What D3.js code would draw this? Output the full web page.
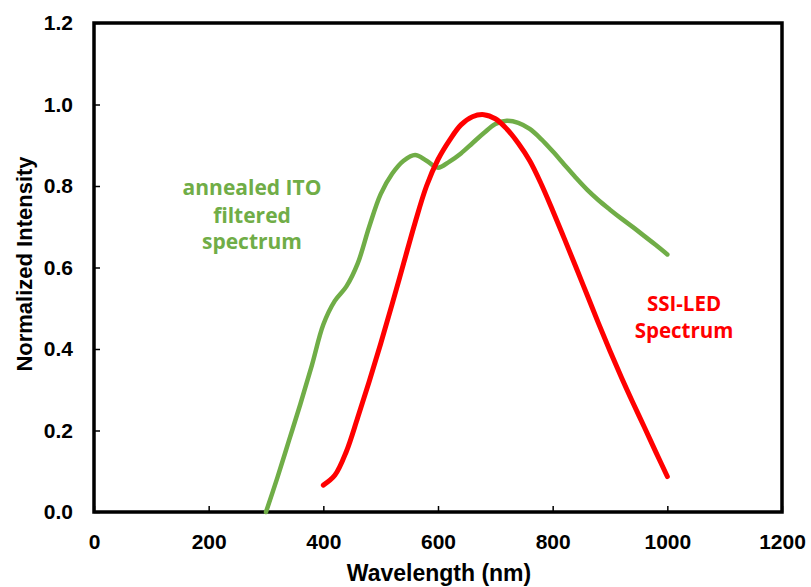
<!DOCTYPE html>
<html><head><meta charset="utf-8">
<script src="https://cdn.jsdelivr.net/npm/d3@7"></script>
<style>body{margin:0;background:#fff}svg{display:block}</style>
</head><body>
<svg id="c" width="811" height="587"></svg>
<script>
const xTicks = [0, 200, 400, 600, 800, 1000, 1200];
const yTicks = [0.0, 0.2, 0.4, 0.6, 0.8, 1.0, 1.2];

const itoWavelength = [300,320,340,360,380,400,420,440,460,480,500,520,540,560,580,600,620,640,660,680,700,720,740,760,780,800,820,840,860,880,900,920,940,960,980,1000];
const itoIntensity  = [0,0.085,0.175,0.265,0.36,0.46,0.518,0.553,0.61,0.70,0.78,0.83,0.862,0.876,0.862,0.845,0.86,0.88,0.905,0.93,0.952,0.96,0.955,0.94,0.915,0.885,0.853,0.821,0.791,0.765,0.742,0.72,0.699,0.677,0.655,0.632];

const ledWavelength = [400,420,440,460,480,500,520,540,560,580,600,620,640,660,680,700,720,740,760,780,800,820,840,860,880,900,920,940,960,980,1000];
const ledIntensity  = [0.066,0.09,0.148,0.232,0.32,0.413,0.51,0.61,0.71,0.80,0.865,0.912,0.95,0.97,0.975,0.965,0.94,0.905,0.862,0.805,0.74,0.672,0.603,0.533,0.463,0.395,0.33,0.268,0.208,0.147,0.087];

const svg = d3.select("#c");
const L = 94, R = 782, T = 23, B = 512;
const x = d3.scaleLinear().domain([0, 1200]).range([L, R]);
const y = d3.scaleLinear().domain([0, 1.2]).range([B, T]);
const tickFont = "'Liberation Sans', Arial, sans-serif";

// axes
const xAxis = svg.append("g").attr("transform", `translate(0,${B})`)
  .call(d3.axisBottom(x).tickValues(xTicks).tickFormat(d3.format("d")).tickSizeInner(-6).tickSizeOuter(0).tickPadding(22));
const yAxis = svg.append("g").attr("transform", `translate(${L},0)`)
  .call(d3.axisLeft(y).tickValues(yTicks).tickFormat(d3.format(".1f")).tickSizeInner(-6).tickSizeOuter(0).tickPadding(21));
[xAxis, yAxis].forEach(g => {
  g.select(".domain").remove();
  g.selectAll(".tick line").attr("stroke", "#000").attr("stroke-width", 1.5);
  g.selectAll(".tick text").attr("font-family", tickFont).attr("font-weight", "bold")
    .attr("font-size", 21).attr("fill", "#000");
});
xAxis.selectAll(".tick text").attr("dy", "0.71em");
// frame
svg.append("rect").attr("x", L).attr("y", T).attr("width", R - L).attr("height", B - T)
  .attr("fill", "none").attr("stroke", "#000").attr("stroke-width", 3.5);

const line = d3.line().curve(d3.curveCatmullRom.alpha(0.5)).x(d => x(d[0])).y(d => y(d[1]));
svg.append("path").datum(itoWavelength.map((w, i) => [w, itoIntensity[i]]))
  .attr("d", line).attr("fill", "none").attr("stroke", "#70AD47").attr("stroke-width", 4.5)
  .attr("stroke-linecap", "round").attr("stroke-linejoin", "round");
svg.append("path").datum(ledWavelength.map((w, i) => [w, ledIntensity[i]]))
  .attr("d", line).attr("fill", "none").attr("stroke", "#FF0000").attr("stroke-width", 5)
  .attr("stroke-linecap", "round").attr("stroke-linejoin", "round");

// axis titles
svg.append("text").attr("x", 439).attr("y", 581).attr("text-anchor", "middle")
  .attr("font-family", tickFont).attr("font-weight", "bold").attr("font-size", 23).text("Wavelength (nm)");
svg.append("text").attr("transform", `translate(32,264) rotate(-90)`).attr("text-anchor", "middle")
  .attr("font-family", tickFont).attr("font-weight", "bold").attr("font-size", 22).text("Normalized Intensity");

// annotations
const annFont = "'Open Sans', 'Noto Sans', sans-serif";
const green = svg.append("text").attr("text-anchor", "middle").attr("font-family", annFont)
  .attr("font-weight", "bold").attr("font-size", 21).attr("fill", "#70AD47");
[["annealed ITO", 195], ["filtered", 223], ["spectrum", 249]].forEach(([t, yy]) =>
  green.append("tspan").attr("x", 252).attr("y", yy).text(t));
const red = svg.append("text").attr("text-anchor", "middle").attr("font-family", annFont)
  .attr("font-weight", "bold").attr("font-size", 20.5).attr("fill", "#FF0000");
[["SSI-LED", 311], ["Spectrum", 338]].forEach(([t, yy]) =>
  red.append("tspan").attr("x", 684).attr("y", yy).text(t));
</script>
</body></html>
